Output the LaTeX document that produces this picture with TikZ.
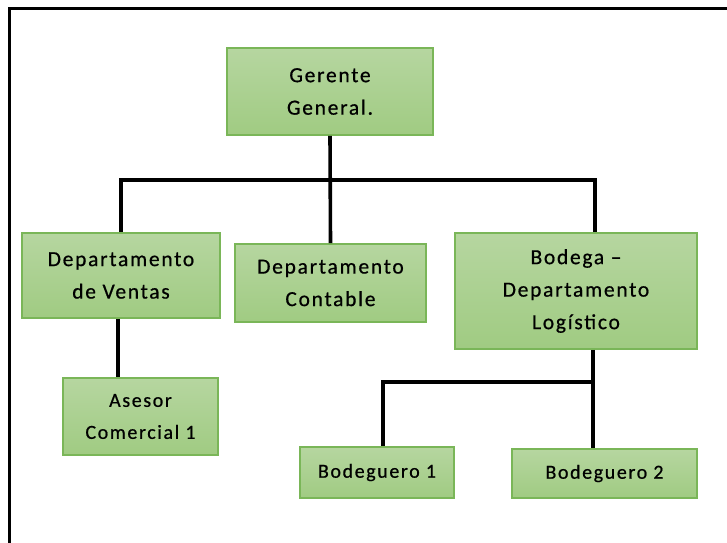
\documentclass[tikz,border=0pt]{standalone}
\usepackage{fontspec}
\setmainfont{Carlito}[LetterSpace=8,FakeBold=0.6]
\begin{document}
\begin{tikzpicture}[x=1pt,y=-1pt,
  box/.style={rectangle, line width=1.6pt,
    top color=boxtop, bottom color=boxbot, inner sep=0pt, align=center,
    text=black, font=\fontsize{21.5}{32.5}\selectfont},
  smallbox/.style={box, font=\fontsize{20}{32}\selectfont},
  conn/.style={line width=3.6pt, black}]
\definecolor{boxtop}{RGB}{182,214,160}
\definecolor{boxbot}{RGB}{160,203,130}
\definecolor{boxedge}{RGB}{122,182,88}
\tikzset{box/.append style={draw=boxedge}}
\useasboundingbox (0,0) rectangle (727,542);
\draw[line width=2.6pt] (9.5,545) -- (9.5,8.3) -- (730,8.3);
\node[box, minimum width=206pt, minimum height=87pt] (gg) at (330,91.5) {Gerente\\General.};
\node[box, minimum width=198pt, minimum height=85pt] (ven) at (121,275.5) {Departamento\\de Ventas};
\node[box, minimum width=191pt, minimum height=78pt] (con) at (330.5,283) {Departamento\\Contable};
\node[box, minimum width=242pt, minimum height=116pt] (bod) at (576,291) {Bodega --\\Departamento\\Logístico};
\node[smallbox, minimum width=155pt, minimum height=77pt] (as) at (140.5,416.5) {Asesor\\Comercial 1};
\node[smallbox, minimum width=154pt, minimum height=51pt] (b1) at (377,472.5) {Bodeguero 1};
\node[smallbox, minimum width=185pt, minimum height=49pt] (b2) at (604.5,473.5) {Bodeguero 2};
\coordinate (top) at (330,180);
\coordinate (mid) at (593,382);
\draw[conn] (ven.north) |- (top) -| ([xshift=19pt]bod.north);
\draw[conn] (gg.south) -- (con.north);
\draw[conn] ([xshift=-3pt]ven.south) -- ([xshift=-3pt]ven.south |- as.north);
\draw[conn] ([xshift=17pt]bod.south) -- ([xshift=17pt]bod.south |- b2.north);
\draw[conn] ([xshift=6pt]b1.north) |- (mid);
\end{tikzpicture}
\end{document}
